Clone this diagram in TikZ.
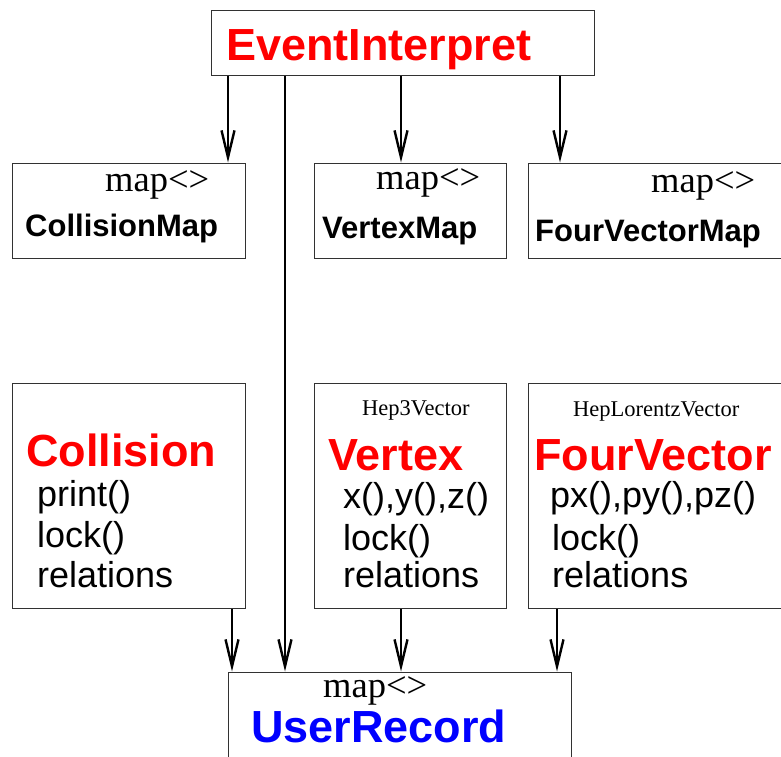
\documentclass[tikz,border=0pt]{standalone}
\usepackage{fontspec}
\setmainfont{Liberation Serif}
\setsansfont{Liberation Sans}
\usetikzlibrary{arrows.meta}
\definecolor{boxline}{RGB}{50,50,50}
\begin{document}
\begin{tikzpicture}[x=1pt,y=-1pt,
  box/.style={draw=boxline,line width=1.6pt,fill=white,inner sep=0pt,anchor=north west},
  arr/.style={line width=2.6pt,-{Straight Barb[length=27pt,width=13pt,line width=2.4pt]}},
  big/.style={anchor=base west,inner sep=0pt,font=\sffamily\bfseries\fontsize{45}{45}\selectfont},
  mapname/.style={anchor=base west,inner sep=0pt,font=\sffamily\bfseries\fontsize{31}{31}\selectfont},
  meth/.style={anchor=base west,inner sep=0pt,font=\sffamily\fontsize{36}{36}\selectfont},
  tmpl/.style={anchor=base west,inner sep=0pt,font=\rmfamily\fontsize{36.5}{36.5}\selectfont},
  base/.style={anchor=base west,inner sep=0pt,font=\rmfamily\fontsize{22.5}{22.5}\selectfont}]
\useasboundingbox (0,0) rectangle (781,756);
\clip (0,0) rectangle (781,756);
\fill[white] (0,0) rectangle (781,756);

% boxes
\node[box,minimum width=383pt,minimum height=65pt] (ei) at (210.5,9.5) {};
\node[box,minimum width=233pt,minimum height=95pt] (cm) at (11.5,162.5) {};
\node[box,minimum width=192pt,minimum height=95pt] (vm) at (313.5,162.5) {};
\node[box,minimum width=280pt,minimum height=95pt] (fm) at (527.5,162.5) {};
\node[box,minimum width=233pt,minimum height=225pt] (co) at (11.5,382.5) {};
\node[box,minimum width=192pt,minimum height=225pt] (ve) at (313.5,382.5) {};
\node[box,minimum width=280pt,minimum height=225pt] (fv) at (527.5,382.5) {};
\node[box,minimum width=343pt,minimum height=120pt] (ur) at (227.5,671.5) {};

% texts
\node[big,text=red] (eit) at (226,60) {EventInterpret};

\node[tmpl] (cmt1) at (105,191) {map<>};
\node[mapname] (cmt2) at (25,236) {CollisionMap};
\node[tmpl] (vmt1) at (376,189) {map<>};
\node[mapname] (vmt2) at (322,238) {VertexMap};
\node[tmpl] (fmt1) at (651,192) {map<>};
\node[mapname] (fmt2) at (535,241) {FourVectorMap};

\node[big,text=red] (cot) at (26,466) {Collision};
\node[meth] (co1) at (37,506) {print()};
\node[meth] (co2) at (37,547) {lock()};
\node[meth] (co3) at (37,587) {relations};

\node[base] (veb) at (362,415) {Hep3Vector};
\node[big,text=red] (vet) at (328,470) {Vertex};
\node[meth] (ve1) at (343,508) {x(),y(),z()};
\node[meth] (ve2) at (343,550) {lock()};
\node[meth] (ve3) at (343,587) {relations};

\node[base] (fvb) at (573,416) {HepLorentzVector};
\node[big,text=red] (fvt) at (534,470) {FourVector};
\node[meth] (fv1) at (550,507) {px(),py(),pz()};
\node[meth] (fv2) at (552,550) {lock()};
\node[meth] (fv3) at (552,587) {relations};

\node[tmpl] (urt1) at (323,697) {map<>};
\node[big,text=blue] (urt) at (251,742) {UserRecord};

% connector x positions
\coordinate (xa) at (228,0);
\coordinate (xb) at (285,0);
\coordinate (xc) at (401,0);
\coordinate (xd) at (560,0);
\coordinate (xe) at (232,0);
\coordinate (xf) at (557,0);

\draw[arr] (ei.south -| xa) -- (cm.north -| xa);
\draw[arr] (ei.south -| xb) -- (ur.north -| xb);
\draw[arr] (ei.south -| xc) -- (vm.north -| xc);
\draw[arr] (ei.south -| xd) -- (fm.north -| xd);
\draw[arr] (co.south -| xe) -- (ur.north -| xe);
\draw[arr] (ve.south -| xc) -- (ur.north -| xc);
\draw[arr] (fv.south -| xf) -- (ur.north -| xf);
\end{tikzpicture}
\end{document}
